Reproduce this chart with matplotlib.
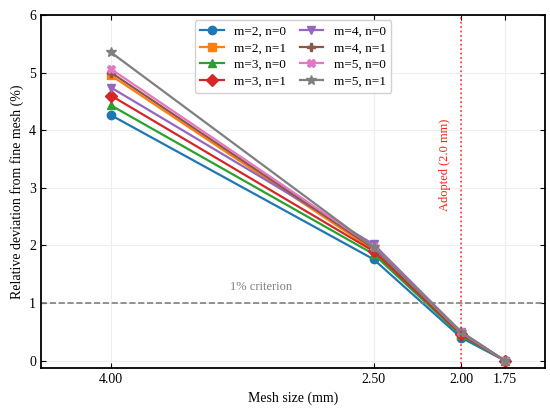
import matplotlib
matplotlib.use('Agg')
import matplotlib.pyplot as plt

plt.rcParams['font.family'] = ['Liberation Serif', 'DejaVu Serif']

mesh = [4.00, 2.50, 2.00, 1.75]
labels = ['m=2, n=0', 'm=2, n=1', 'm=3, n=0', 'm=3, n=1',
          'm=4, n=0', 'm=4, n=1', 'm=5, n=0', 'm=5, n=1']
m2n0 = [4.26, 1.76, 0.40, 0.0]
m2n1 = [4.95, 1.92, 0.47, 0.0]
m3n0 = [4.43, 1.85, 0.44, 0.0]
m3n1 = [4.60, 1.90, 0.46, 0.0]
m4n0 = [4.74, 2.02, 0.50, 0.0]
m4n1 = [5.00, 1.95, 0.48, 0.0]
m5n0 = [5.06, 1.98, 0.49, 0.0]
m5n1 = [5.35, 1.97, 0.50, 0.0]
series = [m2n0, m2n1, m3n0, m3n1, m4n0, m4n1, m5n0, m5n1]
markers = ['o', 's', '^', 'D', 'v', 'P', 'X', '*']

fig = plt.figure(figsize=(5.5, 4.15), dpi=100)
ax = fig.add_axes([0.0745, 0.113, 0.9165, 0.851])

for vals, lab, mk in zip(series, labels, markers):
    ms = 7 if mk == '*' else 6
    ax.plot(mesh, vals, marker=mk, label=lab, lw=1.6, ms=ms)

ax.axhline(1.0, color='gray', ls='--', lw=1.2)
ax.axvline(2.0, color='red', ls=':', lw=1.2, alpha=0.8)
ax.text(3.14, 1.22, '1% criterion', color='gray', fontsize=9, ha='center')
ax.text(2.09, 3.40, 'Adopted (2.0 mm)', color='red', fontsize=9,
        rotation=90, ha='center', va='center', alpha=0.9)

ax.set_xlim(4.40, 1.52)
ax.set_ylim(-0.13, 6.0)
ax.set_xticks(mesh)
ax.set_xticklabels(['%.2f' % v for v in mesh])
ax.set_yticks(range(0, 7))
ax.grid(True, color='#eeeeee', lw=0.8)
ax.tick_params(direction='in', top=True, right=True, labelsize=10)
for s in ax.spines.values():
    s.set_linewidth(1.3)
ax.set_xlabel('Mesh size (mm)', fontsize=10)
ax.set_ylabel('Relative deviation from fine mesh (%)', fontsize=10)
ax.legend(ncol=2, loc='upper center', fontsize=9.5, framealpha=0.9,
          columnspacing=1.0, handlelength=1.8, labelspacing=0.33,
          borderaxespad=0.4)

fig.savefig('out.png', dpi=100)
